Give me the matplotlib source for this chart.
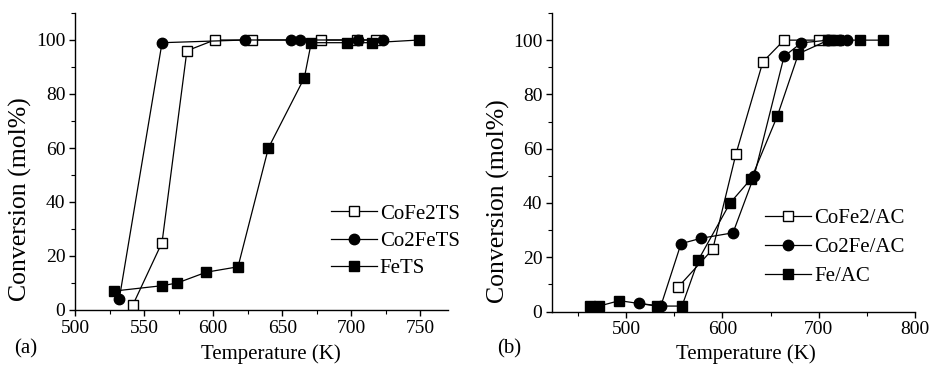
import matplotlib
matplotlib.use("Agg")
import matplotlib.pyplot as plt
from matplotlib.ticker import MultipleLocator

plt.rcParams['font.family'] = ['Liberation Serif', 'DejaVu Serif']

# panel (a): TS catalysts
t_cofe2ts = [542, 563, 581, 601, 628, 678, 704, 718]
x_cofe2ts = [2, 25, 96, 100, 100, 100, 100, 100]
t_co2fets = [532, 563, 623, 656, 663, 705, 723]
x_co2fets = [4, 99, 100, 100, 100, 100, 100]
t_fets = [528, 563, 574, 595, 618, 640, 666, 671, 697, 715, 749]
x_fets = [7, 9, 10, 14, 16, 60, 86, 99, 99, 99, 100]

# panel (b): AC catalysts
t_cofe2ac = [554, 590, 614, 642, 664, 700, 712]
x_cofe2ac = [9, 23, 58, 92, 100, 100, 100]
t_co2feac = [513, 536, 557, 578, 611, 633, 664, 682, 710, 722, 729]
x_co2feac = [3, 2, 25, 27, 29, 50, 94, 99, 100, 100, 100]
t_feac = [462, 472, 493, 532, 558, 575, 608, 630, 657, 679, 710, 720, 743, 767]
x_feac = [2, 2, 4, 2, 2, 19, 40, 49, 72, 95, 100, 100, 100, 100]

labels_a = ['CoFe2TS', 'Co2FeTS', 'FeTS']
labels_b = ['CoFe2/AC', 'Co2Fe/AC', 'Fe/AC']

W, H = 930, 369
fig = plt.figure(figsize=(W / 100, H / 100), dpi=100)
ax1 = fig.add_axes([75 / W, 59 / H, 373 / W, 297 / H])
ax2 = fig.add_axes([552 / W, 57.5 / H, 363 / W, 298.5 / H])

lw = 0.9
ms = 7.5
styles = [dict(marker='s', mfc='white'), dict(marker='o', mfc='black'), dict(marker='s', mfc='black')]

def draw(ax, data, labels):
    for (t, x), lab, st in zip(data, labels, styles):
        ax.plot(t, x, color='black', lw=lw, ms=ms, mec='black', mew=1.0, label=lab, **st)

draw(ax1, [(t_cofe2ts, x_cofe2ts), (t_co2fets, x_co2fets), (t_fets, x_fets)], labels_a)
draw(ax2, [(t_cofe2ac, x_cofe2ac), (t_co2feac, x_co2feac), (t_feac, x_feac)], labels_b)

ax1.set_xlim(500, 770)
ax1.xaxis.set_major_locator(MultipleLocator(50))
ax1.xaxis.set_minor_locator(MultipleLocator(25))
ax2.set_xlim(423, 800)
ax2.xaxis.set_major_locator(MultipleLocator(100))
ax2.xaxis.set_minor_locator(MultipleLocator(50))

for ax in (ax1, ax2):
    ax.set_ylim(0, 110)
    ax.set_yticks([0, 20, 40, 60, 80, 100])
    ax.yaxis.set_minor_locator(MultipleLocator(10))
    for s in ('top', 'right'):
        ax.spines[s].set_visible(False)
    for s in ('left', 'bottom'):
        ax.spines[s].set_linewidth(1.0)
    ax.tick_params(which='major', direction='out', length=4, width=1.0, labelsize=14, pad=3)
    ax.tick_params(which='minor', direction='out', length=3, width=0.8)
    ax.set_xlabel('Temperature (K)', fontsize=15)
    ax.set_ylabel('Conversion (mol%)', fontsize=18.5)

ax1.xaxis.set_label_coords(0.525, -0.114)
ax1.yaxis.set_label_coords(-0.115, 0.374)
ax2.xaxis.set_label_coords(0.534, -0.109)
ax2.yaxis.set_label_coords(-0.116, 0.37)

leg_kw = dict(frameon=False, fontsize=15, handlelength=2.2, handletextpad=0.15,
              borderpad=0, borderaxespad=0, loc='center left')
ax1.legend(bbox_to_anchor=(0.686, 0.232), labelspacing=0.37, **leg_kw)
ax2.legend(bbox_to_anchor=(0.587, 0.215), labelspacing=0.45, **leg_kw)

fig.text(14 / W, 1 - 349 / H, '(a)', fontsize=15, va='center', ha='left')
fig.text(497 / W, 1 - 349 / H, '(b)', fontsize=15, va='center', ha='left')

fig.savefig('out.png', dpi=100)
